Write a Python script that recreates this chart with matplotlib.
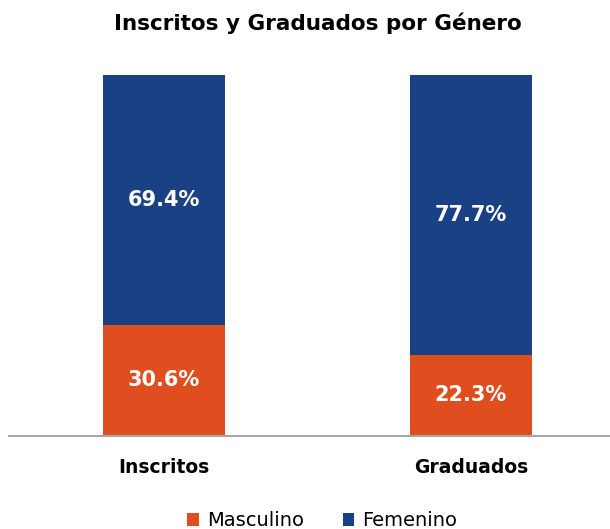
import numpy as np
import matplotlib.pyplot as plt

plt.rcParams['font.family'] = ['DejaVu Sans']

categorias = ['Inscritos', 'Graduados']
masculino = [30.6, 22.3]
femenino = [69.4, 77.7]
series = ['Masculino', 'Femenino']
colores = ['#E04E20', '#1B4185']

fig = plt.figure(figsize=(6.10, 5.29), dpi=100)
ax = fig.add_axes([9 / 610, (529 - 435.5) / 529, 601 / 610, 360.5 / 529])

x = np.arange(len(categorias))
b1 = ax.bar(x, masculino, width=0.4, color=colores[0], label=series[0])
b2 = ax.bar(x, femenino, width=0.4, bottom=masculino, color=colores[1], label=series[1])

for bars, vals in [(b1, masculino), (b2, femenino)]:
    ax.bar_label(bars, labels=[f'{v:.1f}%' for v in vals], label_type='center',
                 color='white', fontsize=15, fontweight='bold')

ax.set_xlim(-0.505, 1.453)
ax.set_ylim(0, 100)
ax.set_xticks(x)
ax.set_xticklabels(categorias, fontsize=13.5, fontweight='bold')
ax.tick_params(axis='x', length=0, pad=16)
ax.set_yticks([])
for s in ['top', 'right', 'left']:
    ax.spines[s].set_visible(False)
ax.spines['bottom'].set_color('#A6A6A6')
ax.spines['bottom'].set_linewidth(1.5)

fig.text(0.521, 1 - 23 / 529, 'Inscritos y Graduados por Género', ha='center', va='center',
         fontsize=15.5, fontweight='bold')

fig.legend(loc='center', bbox_to_anchor=(0.528, 1 - 521 / 529), ncol=2, frameon=False,
           fontsize=14, handlelength=0.6, handleheight=0.6, handletextpad=0.4,
           columnspacing=2.0)

fig.savefig('out.png', dpi=100)
